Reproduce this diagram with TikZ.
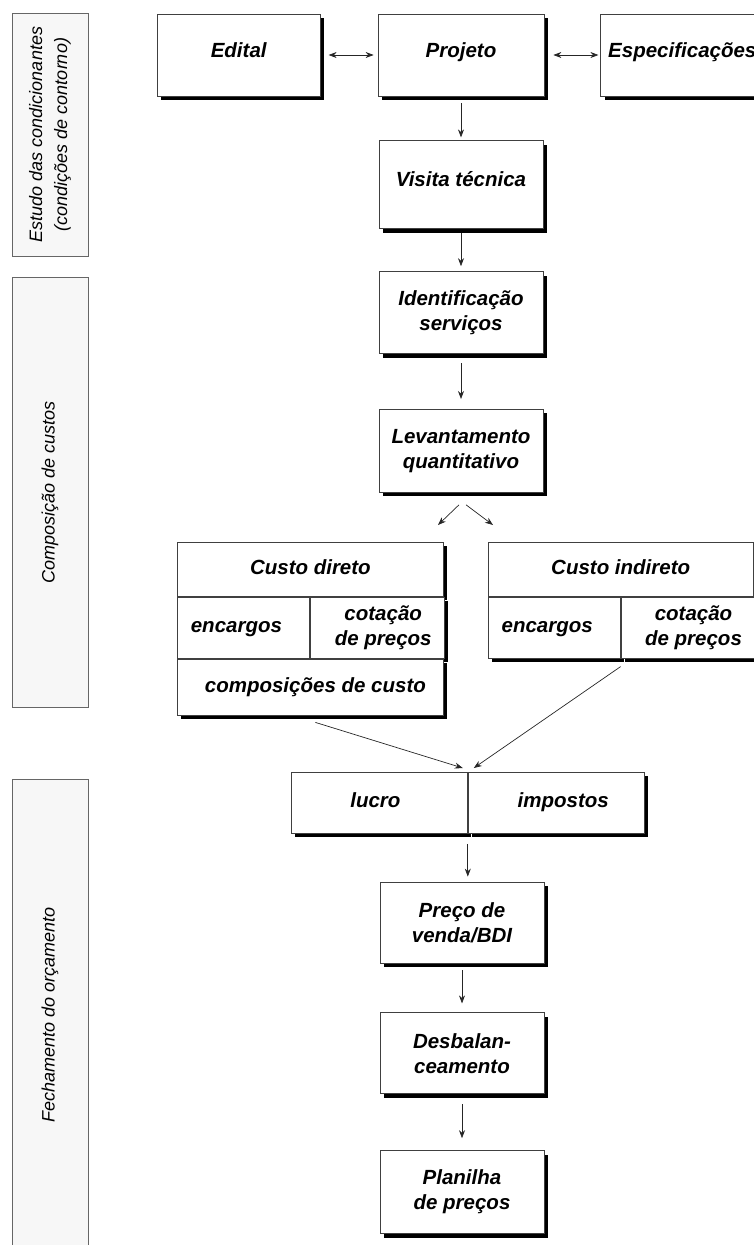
\documentclass[tikz,border=0pt]{standalone}
\usepackage{fontspec}
\setmainfont{Liberation Sans}
\usetikzlibrary{positioning,shadows,arrows.meta,calc}

\newcommand{\boxfont}{\fontsize{20.5}{25}\selectfont\bfseries\itshape}
\newcommand{\sidefont}{\fontsize{18}{25}\selectfont\itshape}

\begin{document}
\begin{tikzpicture}[
    x=1pt, y=1pt,
    >={Stealth[length=8pt,width=6pt]},
    flow/.style={->, draw=black!85, line width=0.7pt},
    box/.style={draw=black!75, line width=0.8pt, fill=white, rectangle, align=center, inner sep=2pt, font=\boxfont, minimum width=164pt, minimum height=82pt, general shadow={fill=black, shadow xshift=4pt, shadow yshift=-4pt}},
    cell/.style={box, anchor=north west, minimum height=61pt},
    oneline/.style={text height=15pt, text depth=5pt},
    upper/.style={text height=12pt, text depth=8pt},
    phase/.style={draw=black!60, line width=0.7pt, fill=black!3, rotate=90, align=center, inner sep=2pt, font=\sidefont, minimum height=76pt}
]
\useasboundingbox (0,0) rectangle (754,-1245);

\node[phase, minimum width=243pt] (faseA) at (50,-134.5) {Estudo das condicionantes\\(condições de contorno)};
\node[phase, minimum width=430pt] (faseB) at (50,-492) {Composição de custos};
\node[phase, minimum width=472pt] (faseC) at (50,-1015) {Fechamento do orçamento};

\node[box, upper, minimum width=166pt] (projeto) at (461,-55) {Projeto};
\node[box, upper, minimum width=163pt, left=57pt of projeto] (edital) {Edital};
\node[box, upper, minimum width=163pt, right=56pt of projeto] (espec) {Especificações};
\node[box, upper, minimum height=88pt, below=44pt of projeto] (visita) {Visita técnica};
\node[box, below=42pt of visita] (ident) {Identificação\\serviços};
\node[box, minimum height=83pt, below=55pt of ident] (levant) {Levantamento\\quantitativo};

\node[cell, oneline, minimum width=266pt, minimum height=54pt] (cdhead) at (177,-542) {Custo direto};
\node[cell, oneline, minimum width=132pt] (cdenc) at (cdhead.south west) {encargos\hspace*{14pt}};
\node[cell, minimum width=134pt] (cdcot) at (cdenc.north east) {\hspace*{12pt}cotação\\\hspace*{12pt}de preços};
\node[cell, oneline, minimum width=266pt, minimum height=56pt] (cdcomp) at (cdenc.south west) {\hspace*{10pt}composições de custo};

\node[cell, oneline, minimum width=265pt, minimum height=54pt] (cihead) at ([xshift=44pt]cdhead.north east) {Custo indireto};
\node[cell, oneline, minimum width=132pt] (cienc) at (cihead.south west) {encargos\hspace*{14pt}};
\node[cell, minimum width=133pt] (cicot) at (cienc.north east) {\hspace*{12pt}cotação\\\hspace*{12pt}de preços};

\node[cell, oneline, minimum width=176pt] (lucro) at (291,-772) {lucro\hspace*{8pt}};
\node[cell, oneline, minimum width=176pt] (impostos) at (lucro.north east) {\hspace*{14pt}impostos};
\node[box, minimum height=81pt] (preco) at (462,-922.5) {Preço de\\venda/BDI};
\node[box, minimum height=81pt, below=49pt of preco] (desbal) {Desbalan-\\ceamento};
\node[box, minimum height=83pt, below=56pt of desbal] (planilha) {Planilha\\de preços};

\coordinate (splitL) at (438,-525);
\coordinate (splitR) at (493,-525);

\draw[flow, <->, shorten <=8pt, shorten >=4pt] (edital) -- (projeto);
\draw[flow, <->, shorten <=9pt, shorten >=2pt] (projeto) -- (espec);
\draw[flow, shorten <=7pt, shorten >=3pt] (projeto) -- (visita);
\draw[flow, shorten <=4pt, shorten >=5pt] (visita) -- (ident);
\draw[flow, shorten <=9pt, shorten >=10pt] (ident) -- (levant);
\draw[flow] ([xshift=-2pt,yshift=-12pt]levant.south) -- (splitL);
\draw[flow] ([xshift=5pt,yshift=-12pt]levant.south) -- (splitR);
\draw[flow] ([xshift=5pt,yshift=-7pt]cdcomp.south) -- ([xshift=-5pt,yshift=4pt]lucro.north east);
\draw[flow] ([yshift=-8pt]cicot.south west) -- ([xshift=6pt,yshift=4pt]lucro.north east);
\draw[flow, shorten <=10pt, shorten >=5pt] (lucro.south east) -- (lucro.south east |- preco.north);
\draw[flow, shorten <=7pt, shorten >=9pt] (preco) -- (desbal);
\draw[flow, shorten <=10pt, shorten >=12pt] (desbal) -- (planilha);

\end{tikzpicture}
\end{document}
